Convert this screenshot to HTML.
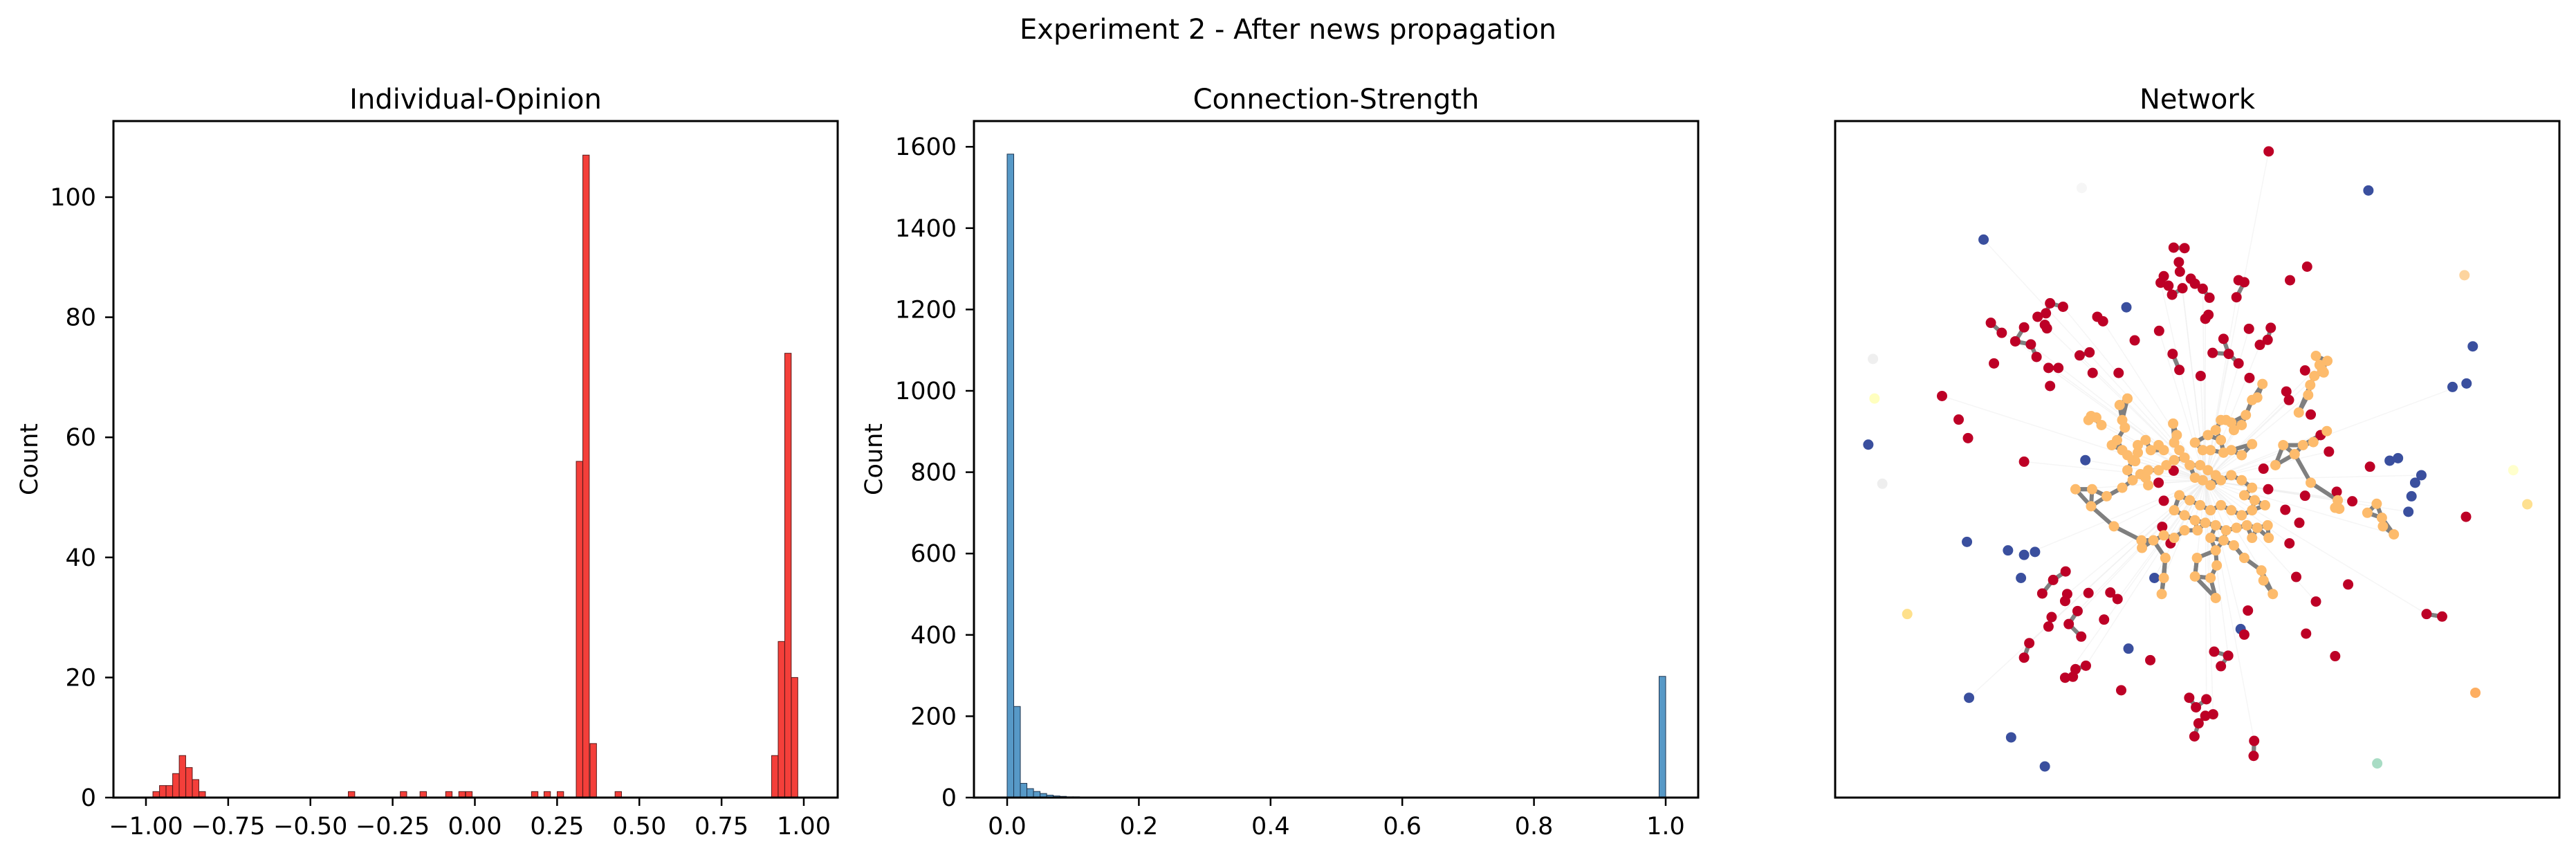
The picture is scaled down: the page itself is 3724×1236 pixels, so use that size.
<!DOCTYPE html>
<html><head><meta charset="utf-8"><style>
html,body{margin:0;padding:0;background:#fff;}
svg{display:block;font-family:"DejaVu Sans","Liberation Sans",sans-serif;}
</style></head><body>
<svg id="fig" width="3724" height="1236" viewBox="0 0 3724 1236" xmlns="http://www.w3.org/2000/svg">
<rect width="3724" height="1236" fill="#fff"/>
<text x="1862" y="56" font-size="40" text-anchor="middle">Experiment 2 - After news propagation</text>
<g id="p1"></g>
<g id="p2"></g>
<g id="p3"></g>
</svg>
<script>
// ---- Individual-Opinion histogram data ----
const opCenters = [-0.969,-0.949,-0.929,-0.909,-0.889,-0.869,-0.849,-0.829,-0.375,-0.217,-0.157,-0.079,-0.039,-0.018,0.182,0.220,0.260,0.318,0.338,0.360,0.436,0.912,0.932,0.952,0.972];
const opCounts  = [1,2,2,4,7,5,3,1,1,1,1,1,1,1,1,1,1,56,107,9,1,7,26,74,20];
const opXTicks = [-1,-0.75,-0.5,-0.25,0,0.25,0.5,0.75,1];
const opXLabels = ["\u22121.00","\u22120.75","\u22120.50","\u22120.25","0.00","0.25","0.50","0.75","1.00"];
const opYTicks = [0,20,40,60,80,100];
// ---- Connection-Strength histogram data ----
const csLeft   = [0,0.01,0.02,0.03,0.04,0.05,0.06,0.07,0.08,0.09,0.10,0.11,0.99];
const csCounts = [1582,224,35,22,15,10,6,4,3,2,2,1,298];
const csXTicks = [0,0.2,0.4,0.6,0.8,1.0];
const csXLabels = ["0.0","0.2","0.4","0.6","0.8","1.0"];
const csYTicks = [0,200,400,600,800,1000,1200,1400,1600];
// ---- Network layout (layout units) ----
const redX=[972,789,810,799,801,770,764,779,786,806,822,830,845,858,856,850,914,925,910,1046,1013,934,976,970,955,885,864,895,914,935,841,787,800,761,714,642,653,683,627,608,633,551,576,527,543,541,545,501,514,484,458,437,443,525,548,567,551,343,375,393,501,1042,1006,1011,1053,1072,1088,1167,962,971,1042,1103,1133,1004,1031,1012,1352,789,760,770,767,783,581,557,584,580,536,604,625,667,681,554,548,587,611,655,511,501,1025,1063,1125,932,925,1044,1100,1276,1306,867,894,880,744,620,600,595,580,688,819,852,832,850,865,837,829,944,943];
const redY=[164,356,357,385,404,413,426,432,450,437,418,428,438,456,490,498,421,425,455,394,421,518,516,540,550,538,566,568,587,616,612,568,600,522,541,494,503,606,565,571,606,467,474,494,487,510,517,515,549,543,526,506,587,574,596,596,632,652,699,736,783,601,643,660,689,730,763,793,797,838,851,843,862,879,905,946,893,801,825,861,913,946,1002,1019,1047,1061,1046,1081,1045,1044,1057,1093,1112,1107,1132,1098,1145,1174,1013,1062,1028,1080,1128,1126,1171,1087,1092,1162,1170,1191,1179,1190,1197,1212,1214,1239,1254,1257,1273,1290,1287,1305,1331,1340,1370];
const blueX=[1164,423,698,1365,1353,1326,201,619,1205,1221,1266,1254,1247,1241,391,470,501,522,495,752,918,702,395,476,541];
const blueY=[242,340,475,553,627,634,749,780,781,776,810,825,852,883,943,960,969,963,1015,1015,1117,1156,1254,1333,1391];
const orX=[630,640,625,650,685,700,690,695,680,670,690,700,710,720,735,745,760,770,790,800,830,845,855,870,880,890,900,905,880,860,885,900,940,920,788,795,775,790,810,820,840,855,870,830,845,860,880,900,920,940,925,945,965,940,920,900,880,860,840,820,800,790,810,830,850,870,890,910,930,950,970,972,940,905,885,860,835,810,790,770,750,727,728,773,834,870,872,860,870,830,770,766,925,958,962,980,600,632,660,674,630,690,710,725,740,715,735,740,760,700,720,940,950,960,928,920,1030,1048,1052,1060,1075,1063,1085,1070,1078,1000,1022,1038,1058,1084,985,1053,1105,1108,1162,1180,1190,1192,1213,1100];
const orY=[692,695,700,710,670,657,700,715,740,750,760,770,780,750,740,760,750,760,745,760,745,760,730,720,700,700,705,720,740,760,765,760,748,770,707,730,790,780,775,790,790,800,810,815,820,830,820,810,820,835,850,860,870,880,890,880,870,880,870,860,850,880,890,900,905,910,920,915,910,915,910,935,935,950,940,935,920,920,935,930,940,940,955,975,975,960,990,1015,1055,1012,1015,1047,975,1000,1020,1047,838,838,852,912,872,835,820,808,830,782,815,800,800,800,765,660,655,628,690,710,685,650,630,612,600,572,582,590,605,750,768,750,744,722,790,825,860,877,885,867,895,912,928,875];
const paleX=[1349,210,213,228,1443,1470,276,1370,1181,612];
const paleY=[411,578,657,827,800,868,1087,1244,1385,237];
const paleC=["#fdd49e","#efefef","#ffffbf","#eeeeee","#ffffcc","#fee090","#fee08b","#fdae61","#a8dcc4","#f6f6f6"];

const NS="http://www.w3.org/2000/svg";
function mk(parent,tag,attrs,name,text){
  const e=document.createElementNS(NS,tag);
  for(const k in attrs) e.setAttribute(k,attrs[k]);
  
  
  if(text!==undefined) e.textContent=text;
  parent.appendChild(e); return e;
}
function axesFrame(g,L,T,R,B,prefix){
  mk(g,'rect',{x:L,y:T,width:R-L,height:B-T,fill:'none',stroke:'#000','stroke-width':3},prefix+'-frame');
}
// Panel 1
(function(){
  const g=document.getElementById('p1');
  const L=164,R=1211,T=175,B=1153;
  const xs=v=>211+(v+1)*475.5, ys=v=>B-v*8.68;
  mk(g,'text',{x:(L+R)/2,y:157,'font-size':40,'text-anchor':'middle'},'panel-title','Individual-Opinion');
  for(let i=0;i<opCenters.length;i++){
    const x0=xs(opCenters[i]-0.0098), x1=xs(opCenters[i]+0.0098);
    mk(g,'rect',{x:x0,y:ys(opCounts[i]),width:x1-x0,height:opCounts[i]*8.68,fill:'#f43f3a',stroke:'#5a1a1a','stroke-width':1},'opinion-bar');
  }
  axesFrame(g,L,T,R,B,'opinion');
  opXTicks.forEach((t,i)=>{const x=xs(t);
    mk(g,'line',{x1:x,x2:x,y1:B,y2:B+12,stroke:'#000','stroke-width':2.5},'x-tick');
    mk(g,'text',{x:x,y:1206,'font-size':35,'text-anchor':'middle'},'x-tick-label',opXLabels[i]);});
  opYTicks.forEach(t=>{const y=ys(t);
    mk(g,'line',{x1:L-12,x2:L,y1:y,y2:y,stroke:'#000','stroke-width':2.5},'y-tick');
    mk(g,'text',{x:139,y:y+12,'font-size':35,'text-anchor':'end'},'y-tick-label',String(t));});
  mk(g,'text',{x:0,y:0,'font-size':35,'text-anchor':'middle',transform:'translate(54,664) rotate(-90)'},'y-axis-title','Count');
})();
// Panel 2
(function(){
  const g=document.getElementById('p2');
  const L=1408,R=2455,T=175,B=1153;
  const xs=v=>1456+v*952, ys=v=>B-v*0.588;
  mk(g,'text',{x:(L+R)/2,y:157,'font-size':40,'text-anchor':'middle'},'panel-title','Connection-Strength');
  for(let i=0;i<csLeft.length;i++){
    const x0=xs(csLeft[i]), x1=xs(csLeft[i]+0.01);
    mk(g,'rect',{x:x0,y:ys(csCounts[i]),width:x1-x0,height:csCounts[i]*0.588,fill:'#5799c7',stroke:'#1d3550','stroke-width':1},'strength-bar');
  }
  axesFrame(g,L,T,R,B,'strength');
  csXTicks.forEach((t,i)=>{const x=xs(t);
    mk(g,'line',{x1:x,x2:x,y1:B,y2:B+12,stroke:'#000','stroke-width':2.5},'x-tick');
    mk(g,'text',{x:x,y:1206,'font-size':35,'text-anchor':'middle'},'x-tick-label',csXLabels[i]);});
  csYTicks.forEach(t=>{const y=ys(t);
    mk(g,'line',{x1:L-12,x2:L,y1:y,y2:y,stroke:'#000','stroke-width':2.5},'y-tick');
    mk(g,'text',{x:1383,y:y+12,'font-size':35,'text-anchor':'end'},'y-tick-label',String(t));});
  mk(g,'text',{x:0,y:0,'font-size':35,'text-anchor':'middle',transform:'translate(1275,664) rotate(-90)'},'y-axis-title','Count');
})();
// Panel 3
(function(){
  const g=document.getElementById('p3');
  const L=2653,R=3700,T=175,B=1153;
  const px=v=>2550+v/1.332, py=v=>100+v/1.38;
  mk(g,'text',{x:(L+R)/2,y:157,'font-size':40,'text-anchor':'middle'},'panel-title','Network');
  const eg=mk(g,'g',{},'edges');
  const all=[];
  redX.forEach((x,i)=>all.push([x,redY[i]]));
  blueX.forEach((x,i)=>all.push([x,blueY[i]]));
  orX.forEach((x,i)=>all.push([x,orY[i]]));
  all.forEach((n,i)=>{ if(i%3===0){
    mk(eg,'line',{x1:px(n[0]),y1:py(n[1]),x2:px(850),y2:py(820),stroke:'#ececec','stroke-width':1.5,opacity:0.5},'weak-edge');}});
  function near(arrX,arrY,maxd,col,w,k){
    for(let i=0;i<arrX.length;i++){
      const ds=[];
      for(let j=0;j<arrX.length;j++){ if(i===j) continue;
        ds.push([Math.hypot(arrX[i]-arrX[j],arrY[i]-arrY[j]),j]); }
      ds.sort((a,b)=>a[0]-b[0]);
      for(let m=0;m<k&&m<ds.length;m++){
        if(ds[m][0]<maxd){const j=ds[m][1];
          mk(eg,'line',{x1:px(arrX[i]),y1:py(arrY[i]),x2:px(arrX[j]),y2:py(arrY[j]),stroke:col,'stroke-width':w,'stroke-linecap':'round'},'strong-edge');}
      }
    }
  }
  near(orX,orY,75,'#7f7f7f',6,2);
  near(redX,redY,35,'#7f7f7f',6,1);
  const ng=mk(g,'g',{},'nodes');
  const r=7.5;
  paleX.forEach((x,i)=>mk(ng,'circle',{cx:px(x),cy:py(paleY[i]),r:r,fill:paleC[i]},'node'));
  blueX.forEach((x,i)=>mk(ng,'circle',{cx:px(x),cy:py(blueY[i]),r:r,fill:'#3a4f9e'},'node'));
  redX.forEach((x,i)=>mk(ng,'circle',{cx:px(x),cy:py(redY[i]),r:r,fill:'#bd0026'},'node'));
  orX.forEach((x,i)=>mk(ng,'circle',{cx:px(x),cy:py(orY[i]),r:r,fill:'#fdbb6c'},'node'));
  axesFrame(g,L,T,R,B,'network');
})();
</script>
</body></html>
